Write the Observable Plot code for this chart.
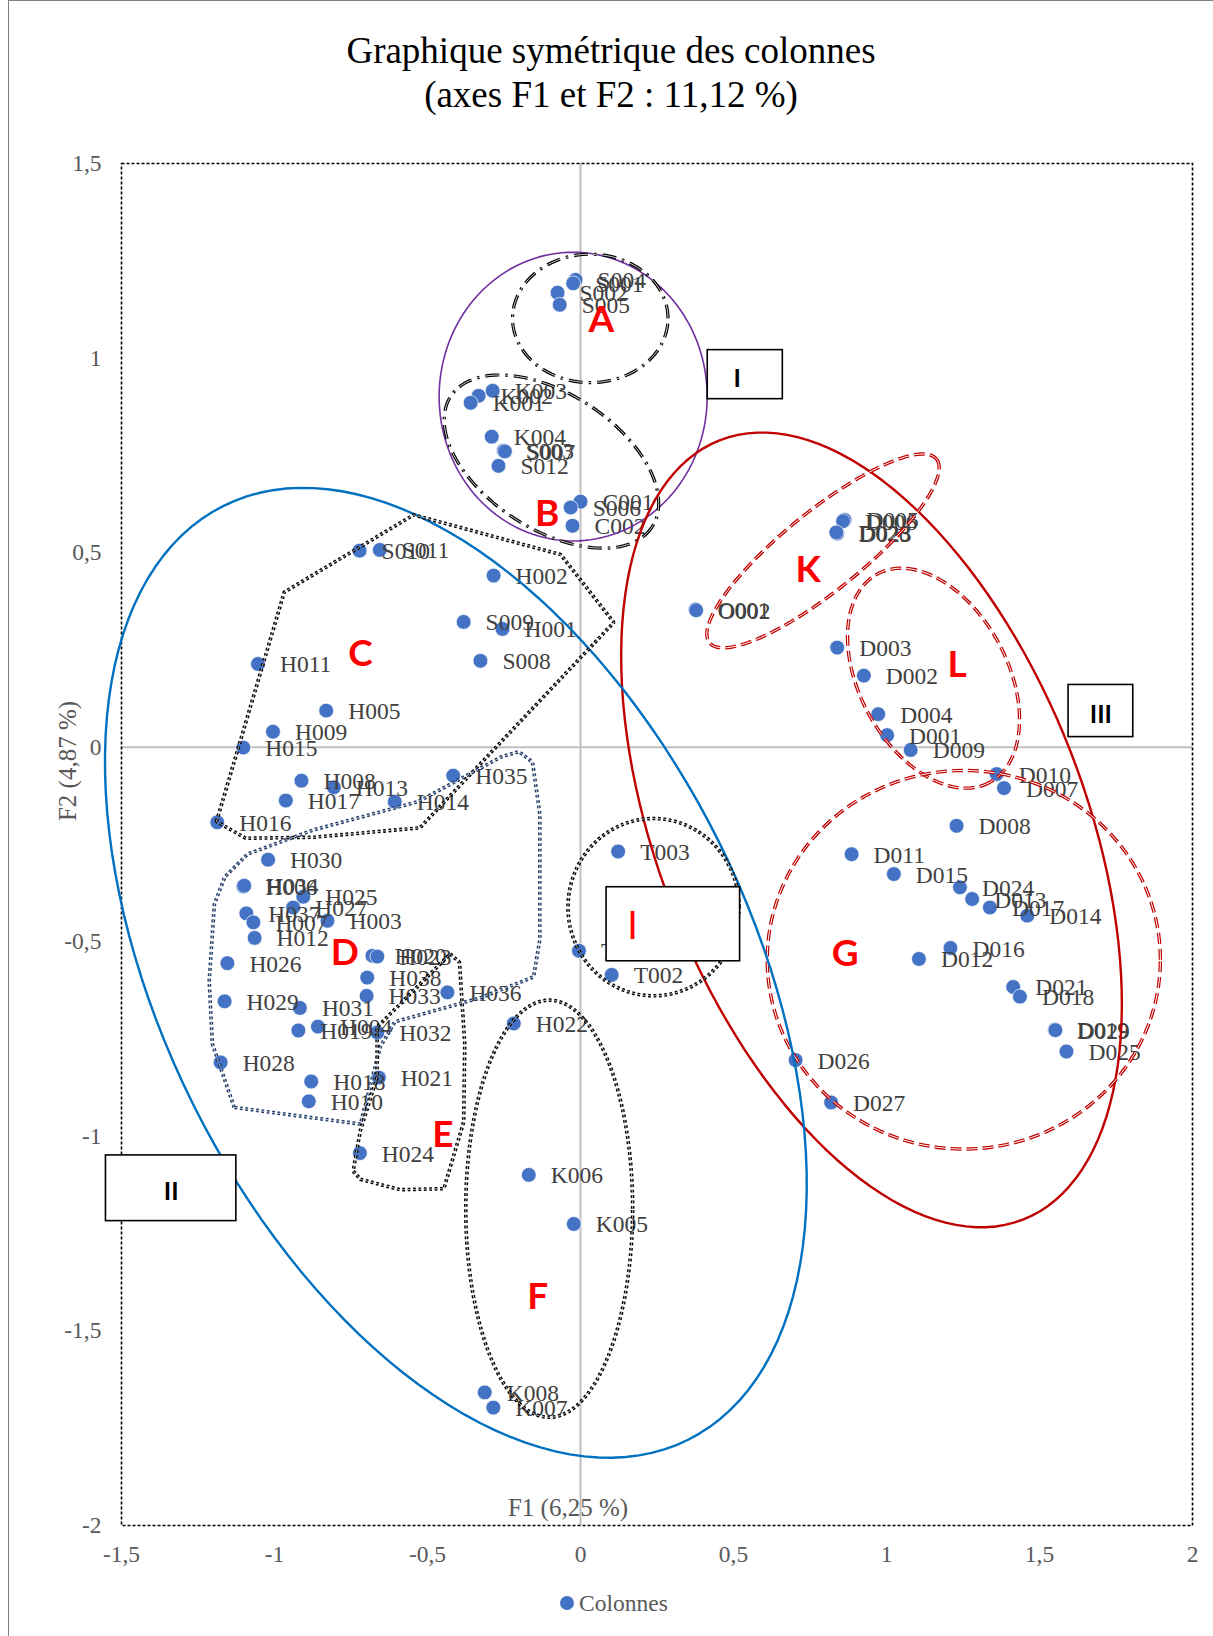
<!DOCTYPE html>
<html><head><meta charset="utf-8">
<script src="https://cdn.jsdelivr.net/npm/d3@7"></script>
<script src="https://cdn.jsdelivr.net/npm/@observablehq/plot@0.6"></script>
<style>body{margin:0;background:#fff} svg{display:block}</style>
</head><body><div id="chart"></div>
<script>
// ---- point data (F1, F2) ----
const labels = ["S004","S001","S002","S005","K003","K002","K001","K004","S003","S007","S012","C001","S006","C002",
"S010","S011","H002","S009","H001","S008","H011","H005","H009","H015","H008","H013","H017","H016","H014","H035",
"H030","H006","H034","H025","H027","H037","H007","H003","H012","H026","H020","H023","H038","H033","H036",
"H029","H031","H019","H004","H032","H028","H018","H021","H010","H024","H022","T001","T002","T003",
"K006","K005","K008","K007","O001","O002","D005","D006","D023","D028","D003","D002","D004","D001","D009",
"D010","D007","D008","D011","D015","D024","D013","D017","D014","D016","D012","D021","D018","D019","D029","D025","D026","D027"];
const f1 = [-0.016,-0.024,-0.075,-0.068,-0.287,-0.333,-0.359,-0.290,-0.251,-0.247,-0.268,0.000,-0.032,-0.026,
-0.722,-0.656,-0.284,-0.382,-0.255,-0.327,-1.054,-0.831,-1.005,-1.102,-0.912,-0.806,-0.963,-1.187,-0.607,-0.416,
-1.021,-1.102,-1.099,-0.906,-0.939,-1.092,-1.069,-0.827,-1.065,-1.154,-0.680,-0.664,-0.697,-0.699,-0.435,
-1.163,-0.917,-0.922,-0.858,-0.664,-1.176,-0.880,-0.659,-0.888,-0.721,-0.218,-0.005,0.102,0.123,
-0.169,-0.022,-0.313,-0.285,0.376,0.378,0.863,0.858,0.839,0.836,0.839,0.926,0.973,1.002,1.079,
1.360,1.384,1.229,0.886,1.024,1.240,1.280,1.338,1.460,1.209,1.106,1.414,1.436,1.550,1.552,1.588,0.703,0.819];
const f2 = [1.201,1.192,1.168,1.137,0.916,0.903,0.885,0.798,0.762,0.760,0.723,0.631,0.616,0.569,
0.505,0.507,0.441,0.322,0.304,0.222,0.214,0.094,0.040,-0.001,-0.086,-0.103,-0.137,-0.193,-0.140,-0.073,
-0.289,-0.358,-0.356,-0.384,-0.412,-0.427,-0.450,-0.446,-0.490,-0.555,-0.536,-0.538,-0.592,-0.639,-0.630,
-0.653,-0.670,-0.728,-0.718,-0.733,-0.810,-0.859,-0.849,-0.910,-1.043,-0.710,-0.523,-0.585,-0.268,
-1.099,-1.225,-1.658,-1.697,0.354,0.352,0.584,0.581,0.549,0.552,0.256,0.184,0.085,0.031,-0.007,
-0.069,-0.105,-0.202,-0.275,-0.326,-0.360,-0.390,-0.412,-0.433,-0.516,-0.544,-0.616,-0.641,-0.726,-0.727,-0.782,-0.804,-0.913];

// ---- axis ticks ----
const xTicks = [-1.5,-1,-0.5,0,0.5,1,1.5,2];
const xTickLabels = ["-1,5","-1","-0,5","0","0,5","1","1,5","2"];
const yTicks = [1.5,1,0.5,0,-0.5,-1,-1.5,-2];
const yTickLabels = ["1,5","1","0,5","0","-0,5","-1","-1,5","-2"];

// ---- annotation ellipses (centre + two semi-axis vectors, in F1/F2 units) ----
const ellNames = ["purple","A","B","III","K","L","G","II","T","F"];
const ellCx = [-0.024, 0.032,-0.095, 0.951, 0.7925,1.1537,1.2526,-0.4073,0.2386,-0.1023];
const ellCy = [ 0.901, 1.102, 0.734,-0.2125,0.5044,0.1774,-0.5462,-0.5797,-0.411,-1.186];
const ellUx = [ 0.438, 0.254, 0.329, 0.4946,0.3708,0.1834,0.6425,0.759, 0.2795,0.2727];
const ellUy = [ 0,     0,    -0.168,-1.0016,0.2361,-0.2678,0,   -1.200, 0,     0];
const ellVx = [ 0,     0,    -0.121,-0.6517,0.0815,-0.2130,0,   -0.8596,0,     0];
const ellVy = [ 0.371, 0.165,-0.146,-0.1989,-0.0791,-0.0903,0.4865,-0.3364,0.2278,0.536];

// ---- annotation polygons ----
const polyCx = [-1.1895,-0.968,-0.5453,-0.0648,0.109,-0.5249,-0.8725,-1.0941];
const polyCy = [-0.191,0.3986,0.597,0.495,0.3208,-0.2072,-0.2313,-0.234];
const polyDx = [-1.1316,-1.2031,-1.2134,-1.1963,-1.1622,-1.0872,-0.8725,-0.5317,-0.259,-0.2011,-0.1568,-0.1329,-0.1329,-0.1534,-0.3272,-0.6067,-0.6544,-0.7191];
const polyDy = [-0.9256,-0.7621,-0.601,-0.4026,-0.3329,-0.2742,-0.2125,-0.1402,-0.0249,-0.0115,-0.0383,-0.1723,-0.4939,-0.5904,-0.6440,-0.7057,-0.77,-0.9684];
const polyEx = [-0.426,-0.3954,-0.3783,-0.3817,-0.4465,-0.5896,-0.7192,-0.743,-0.7192,-0.6646,-0.6646];
const polyEy = [-0.5313,-0.5527,-0.7618,-0.9628,-1.1344,-1.1371,-1.1103,-1.0889,-0.9843,-0.8477,-0.7190];

// ---- boxes ----
const boxText = ["I","III","II",""];
const boxX1 = [0.4158,1.595,-1.5508,0.0852];
const boxX2 = [0.6612,1.8064,-1.1247,0.5215];
const boxY1 = [1.0204,0.160,-1.0490,-0.3598];
const boxY2 = [0.8944,0.026,-1.2178,-0.5501];

// ---- red group letters ----
const grpText = ["A","B","C","D","E","F","G","K","L"];
const grpX = [0.0682,-0.1091,-0.7192,-0.7703,-0.4498,-0.1397,0.8650,0.7440,1.2304];
const grpY = [1.0979,0.5997,0.2403,-0.5299,-0.9978,-1.4134,-0.5316,0.4548,0.2111];
const grpI = {text:"I", x:0.1704, y:-0.4618};

// ---- build tables ----
const pts = labels.map((l,i)=>({label:l, x:f1[i], y:f2[i]}));
const ell = [];
ellNames.forEach((n,i)=>{
  for(let k=0;k<=144;k++){
    const t = 2*Math.PI*k/144;
    ell.push({shape:n, x: ellCx[i]+Math.cos(t)*ellUx[i]+Math.sin(t)*ellVx[i],
                       y: ellCy[i]+Math.cos(t)*ellUy[i]+Math.sin(t)*ellVy[i]});
  }
});
const E = n => ell.filter(d=>d.shape===n);
const poly = (xs,ys)=>xs.map((x,i)=>({x, y:ys[i]}));
const pC = poly(polyCx,polyCy), pD = poly(polyDx,polyDy), pE = poly(polyEx,polyEy);
const boxes = boxText.map((t,i)=>({t, x1:boxX1[i], x2:boxX2[i], y1:boxY1[i], y2:boxY2[i]}));
const grps = grpText.map((t,i)=>({t, x:grpX[i], y:grpY[i]}));

const serif = "Liberation Serif, Times New Roman, serif";
const L = {strokeLinecap:"butt", strokeLinejoin:"miter"};
const dotted = (data, color) => [
  Plot.line(data, {x:"x", y:"y", curve:"linear-closed", stroke:color, strokeWidth:3.6, strokeDasharray:"2.8,2.6", ...L}),
  Plot.line(data, {x:"x", y:"y", curve:"linear-closed", stroke:"white", strokeWidth:0.7, strokeDasharray:"2.8,2.6", ...L})
];
const redDashed = data => [
  Plot.line(data, {x:"x", y:"y", stroke:"#C00000", strokeWidth:3.4, strokeDasharray:"11,5", ...L}),
  Plot.line(data, {x:"x", y:"y", stroke:"white", strokeWidth:1, strokeDasharray:"11,5", ...L})
];
const dashDot = data => [
  Plot.line(data, {x:"x", y:"y", stroke:"black", strokeWidth:3.2, strokeDasharray:"14,6,2.5,6", ...L}),
  Plot.line(data, {x:"x", y:"y", stroke:"white", strokeWidth:0.8, strokeDasharray:"14,6,2.5,6", ...L})
];

const plot = Plot.plot({
  width: 1213, height: 1636,
  marginLeft: 121, marginRight: 21, marginTop: 163, marginBottom: 111,
  x: {domain: [-1.5, 2], axis: null},
  y: {domain: [-2, 1.5], axis: null},
  style: {background: "white", overflow: "visible"},
  marks: [
    Plot.ruleX([0], {stroke:"#BFBFBF", strokeWidth:2}),
    Plot.ruleY([0], {stroke:"#BFBFBF", strokeWidth:2}),
    Plot.frame({stroke:"black", strokeWidth:1.6, strokeDasharray:"3,2"}),
    Plot.text(xTicks, {x: d=>d, text: (d,i)=>xTickLabels[i], frameAnchor:"bottom", lineAnchor:"middle", dy:29, fontFamily:serif, fontSize:23.5, fill:"#595959"}),
    Plot.text(yTicks, {y: d=>d, text: (d,i)=>yTickLabels[i], frameAnchor:"left", lineAnchor:"middle", dx:-20, textAnchor:"end", fontFamily:serif, fontSize:23.5, fill:"#595959"}),
    Plot.dot(pts, {x:"x", y:"y", r:7.4, fill:"#4472C4", stroke:"white", strokeWidth:0.7}),
    Plot.text(pts, {x:"x", y:"y", text:"label", dx:22, dy:1, textAnchor:"start", fontFamily:serif, fontSize:23.5, fill:"#404040"}),
    // ellipses
    Plot.line(E("purple"), {x:"x", y:"y", stroke:"#7030A0", strokeWidth:1.6}),
    ...dashDot(E("A")),
    ...dashDot(E("B")),
    Plot.line(E("III"), {x:"x", y:"y", stroke:"#C00000", strokeWidth:2.4}),
    ...redDashed(E("K")),
    ...redDashed(E("L")),
    ...redDashed(E("G")),
    Plot.line(E("II"), {x:"x", y:"y", stroke:"#0070C0", strokeWidth:2.4}),
    ...dotted(E("T"), "black"),
    ...dotted(E("F"), "black"),
    ...dotted(pC, "black"),
    ...dotted(pD, "#1F3864"),
    ...dotted(pE, "black"),
    // boxes
    Plot.rect(boxes, {x1:"x1", x2:"x2", y1:"y1", y2:"y2", fill:"white", stroke:"black", strokeWidth:1.6}),
    Plot.text(boxes.filter(d=>d.t!=="I"), {x: d=>(d.x1+d.x2)/2, y: d=>(d.y1+d.y2)/2, text:"t", dy:4, fontFamily:"Lato, sans-serif", fontWeight:"bold", fontSize:25, fill:"black"}),
    Plot.text(boxes.filter(d=>d.t==="I"), {x: d=>(d.x1+d.x2)/2, y: d=>(d.y1+d.y2)/2, text:"t", dx:-8, dy:4, fontFamily:"Lato, sans-serif", fontWeight:"bold", fontSize:25, fill:"black"}),
    // red letters
    Plot.text(grps, {x:"x", y:"y", text:"t", fontFamily:"Lato, sans-serif", fontWeight:"bold", fontSize:37, fill:"#FF0000"}),
    Plot.text([grpI], {x:"x", y:"y", text:"text", fontFamily:"Lato, sans-serif", fontSize:38, fill:"#FF0000"})
  ]
});

const svg = d3.select(plot);
// outer chart border
svg.append("rect").attr("x",8.5).attr("y",0.5).attr("width",1300).attr("height",1700)
  .attr("fill","none").attr("stroke","#7f7f7f").attr("stroke-width",1);
// title
svg.append("text").attr("x",611).attr("y",63).attr("text-anchor","middle")
  .attr("font-family",serif).attr("font-size",37).attr("fill","black").text("Graphique symétrique des colonnes");
svg.append("text").attr("x",611).attr("y",107).attr("text-anchor","middle")
  .attr("font-family",serif).attr("font-size",37).attr("fill","black").text("(axes F1 et F2 : 11,12 %)");
// axis titles
svg.append("text").attr("transform","translate(76,761) rotate(-90)").attr("text-anchor","middle")
  .attr("font-family",serif).attr("font-size",25).attr("fill","#595959").text("F2 (4,87 %)");
svg.append("text").attr("x",568).attr("y",1516).attr("text-anchor","middle")
  .attr("font-family",serif).attr("font-size",25).attr("fill","#595959").text("F1 (6,25 %)");
// legend
svg.append("circle").attr("cx",567).attr("cy",1603).attr("r",7).attr("fill","#4472C4");
svg.append("text").attr("x",579).attr("y",1611).attr("text-anchor","start").attr("font-family",serif).attr("font-size",23.5)
  .attr("fill","#595959").text("Colonnes");

document.getElementById("chart").appendChild(plot);
</script>
</body></html>
